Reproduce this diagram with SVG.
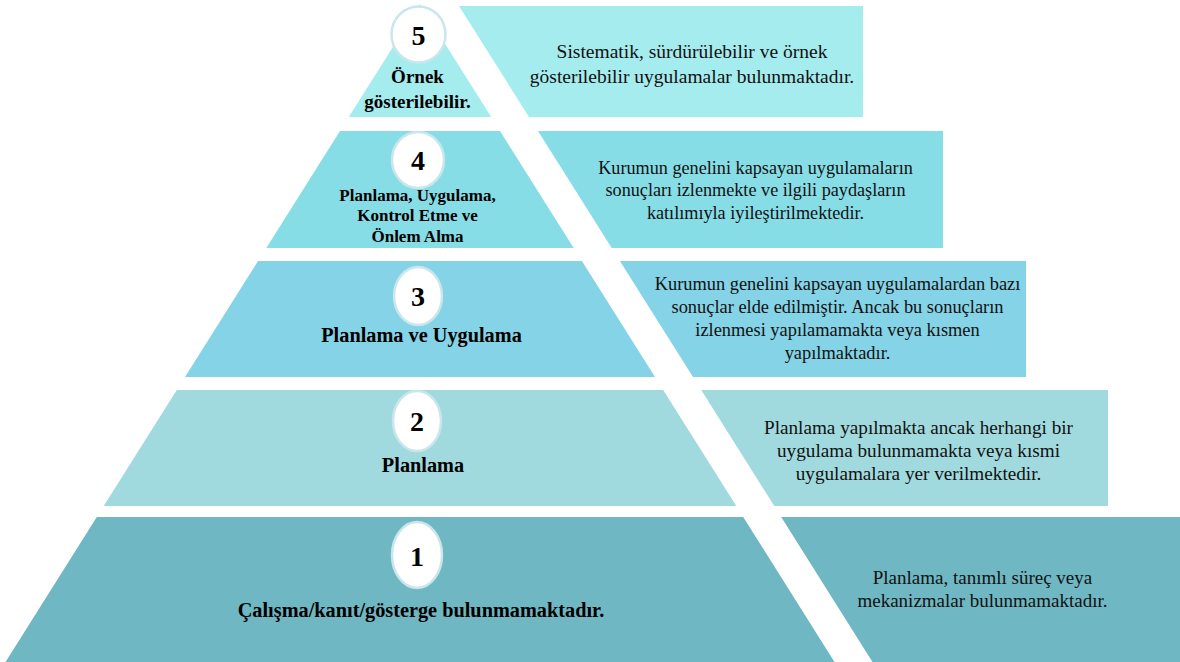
<svg xmlns="http://www.w3.org/2000/svg" width="1180" height="662" viewBox="0 0 1180 662">
<style>
text{font-family:"Liberation Serif","Times New Roman",serif;text-anchor:middle;fill:#000}
.num{font-weight:bold;font-size:28px}
.lbl{font-weight:bold;font-size:20.3px}
.lbl5{font-weight:bold;font-size:19px}
.lbl4{font-weight:bold;font-size:17px}
.desc{fill:#111}
.circ{fill:#fff;stroke:#c9e6ec;stroke-width:2.5}
</style>
<rect width="1180" height="662" fill="#fff"/>
<g id="level5">
<polygon points="420,4 491.2,117 348.8,117" fill="#a5ecef"/>
<polygon points="459,6 863,6 863,117 529,117" fill="#a5ecef"/>
<ellipse class="circ" cx="418.5" cy="34.5" rx="27" ry="28"/>
<text class="num" x="418.5" y="45">5</text>
<text class="lbl5" x="417.5" y="83">Örnek</text>
<text class="lbl5" x="417.5" y="108">gösterilebilir.</text>
<text class="desc" font-size="19.5" x="692" y="58">Sistematik, sürdürülebilir ve örnek</text>
<text class="desc" font-size="19.5" x="692" y="83">gösterilebilir uygulamalar bulunmaktadır.</text>
</g>
<g id="level4">
<polygon points="340,131 500,131 573.7,248 266.3,248" fill="#87dde6"/>
<polygon points="538,131 943,131 943,248 611.7,248" fill="#87dde6"/>
<ellipse class="circ" cx="418" cy="160" rx="26" ry="28"/>
<text class="num" x="418" y="170">4</text>
<text class="lbl4" x="417.5" y="201">Planlama, Uygulama,</text>
<text class="lbl4" x="417.5" y="221">Kontrol Etme ve</text>
<text class="lbl4" x="417.5" y="242">Önlem Alma</text>
<text class="desc" font-size="18.2" x="755.5" y="174">Kurumun genelini kapsayan uygulamaların</text>
<text class="desc" font-size="18.2" x="755.5" y="196">sonuçları izlenmekte ve ilgili paydaşların</text>
<text class="desc" font-size="18.2" x="755.5" y="219">katılımıyla iyileştirilmektedir.</text>
</g>
<g id="level3">
<polygon points="258.1,261 581.9,261 655,377 185,377" fill="#85d3e6"/>
<polygon points="619.9,261 1026,261 1026,377 693,377" fill="#85d3e6"/>
<ellipse class="circ" cx="418" cy="296" rx="24" ry="29"/>
<text class="num" x="418" y="306">3</text>
<text class="lbl" x="421.5" y="342">Planlama ve Uygulama</text>
<text class="desc" font-size="18.4" x="837.5" y="290">Kurumun genelini kapsayan uygulamalardan bazı</text>
<text class="desc" font-size="18.4" x="837.5" y="313">sonuçlar elde edilmiştir. Ancak bu sonuçların</text>
<text class="desc" font-size="18.4" x="837.5" y="336">izlenmesi yapılamamakta veya kısmen</text>
<text class="desc" font-size="18.4" x="837.5" y="359">yapılmaktadır.</text>
</g>
<g id="level2">
<polygon points="176.8,390 663.2,390 736.3,506 103.7,506" fill="#a1dade"/>
<polygon points="701.2,390 1108,390 1108,506 774.3,506" fill="#a1dade"/>
<ellipse class="circ" cx="417" cy="421" rx="24" ry="30"/>
<text class="num" x="417" y="431">2</text>
<text class="lbl" x="423" y="472">Planlama</text>
<text class="desc" font-size="19.2" x="918.5" y="434">Planlama yapılmakta ancak herhangi bir</text>
<text class="desc" font-size="19.2" x="918.5" y="457">uygulama bulunmamakta veya kısmi</text>
<text class="desc" font-size="19.2" x="918.5" y="480">uygulamalara yer verilmektedir.</text>
</g>
<g id="level1">
<polygon points="96.8,517 743.2,517 834.5,662 5.5,662" fill="#6eb7c3"/>
<polygon points="781.2,517 1180,517 1180,662 872.5,662" fill="#6eb7c3"/>
<ellipse class="circ" cx="417" cy="555" rx="25" ry="33"/>
<text class="num" x="417" y="566">1</text>
<text class="lbl" x="421" y="617">Çalışma/kanıt/gösterge bulunmamaktadır.</text>
<text class="desc" font-size="19" x="982.5" y="584">Planlama, tanımlı süreç veya</text>
<text class="desc" font-size="19" x="982.5" y="607">mekanizmalar bulunmamaktadır.</text>
</g>
<g id="connectors"/>
</svg>
